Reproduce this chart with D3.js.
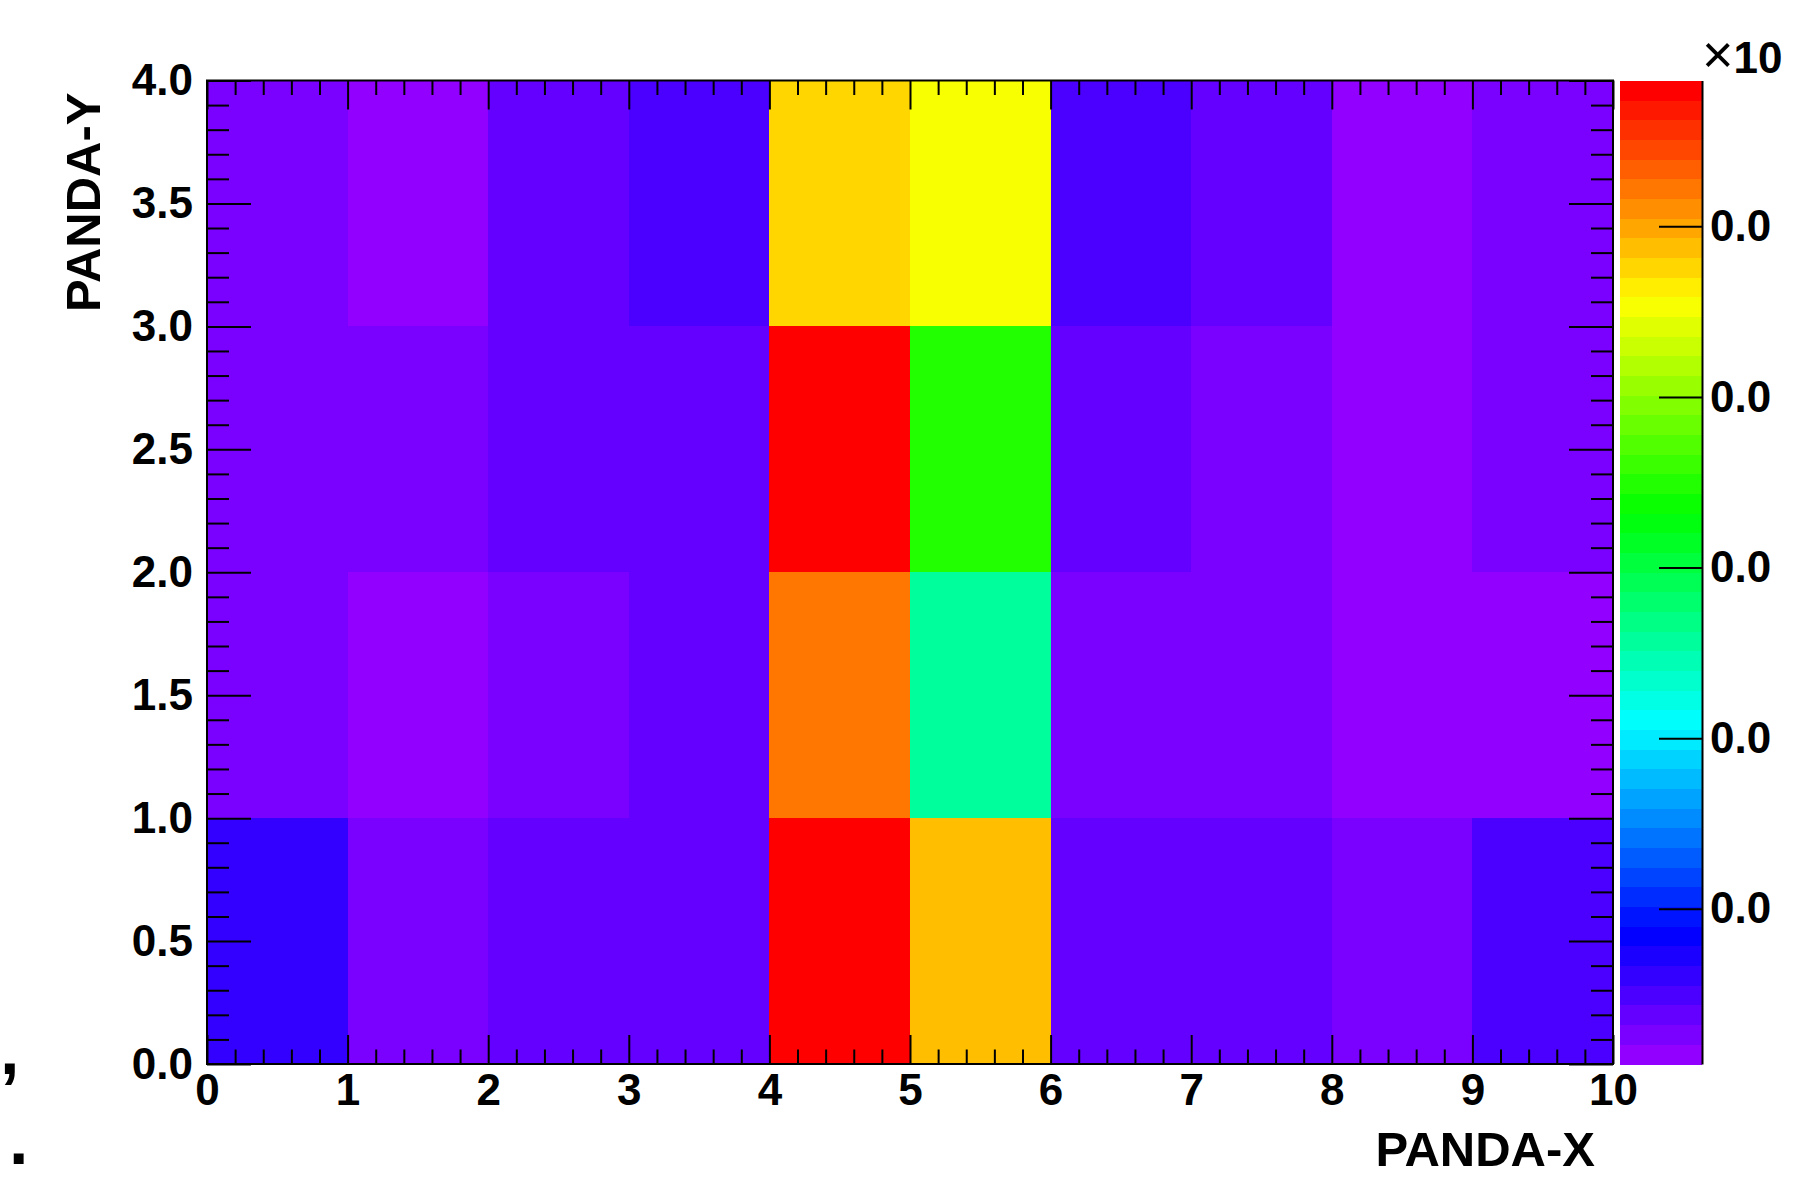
<!DOCTYPE html>
<html>
<head>
<meta charset="utf-8">
<script src="https://cdn.jsdelivr.net/npm/d3@7"></script>
<style>
  html, body { margin: 0; padding: 0; background: #fff; }
  svg { display: block; }
</style>
</head>
<body>
<svg id="chart"></svg>
<script>
// PANDA hit map, COLZ style

const xEdges = [0, 1, 2, 3, 4, 5, 6, 7, 8, 9, 10];
const yEdges = [0, 1, 2, 3, 4];

// cell contents, one array per row of y bins (bottom row first)
const row0 = [0.0121, 0.0052, 0.0074, 0.0079, 0.1160, 0.0978, 0.0075, 0.0071, 0.0055, 0.0098];
const row1 = [0.0050, 0.0034, 0.0056, 0.0078, 0.1047, 0.0512, 0.0054, 0.0058, 0.0030, 0.0027];
const row2 = [0.0057, 0.0051, 0.0073, 0.0077, 0.1171, 0.0697, 0.0072, 0.0053, 0.0031, 0.0049];
const row3 = [0.0049, 0.0028, 0.0068, 0.0095, 0.0950, 0.0905, 0.0097, 0.0070, 0.0033, 0.0055];
const rows = [row0, row1, row2, row3];

const xTicks = [0, 1, 2, 3, 4, 5, 6, 7, 8, 9, 10];
const yTicks = [0, 0.5, 1, 1.5, 2, 2.5, 3, 3.5, 4];
const zMin = 0.0018;
const zTicks = [0.02, 0.04, 0.06, 0.08, 0.10];
const zTickLabels = ["0.0", "0.0", "0.0", "0.0", "0.0"];

const xTitle = "PANDA-X";
const yTitle = "PANDA-Y";

const font = "'Liberation Sans', Arial, Helvetica, sans-serif";

const margin = { top: 80.5, right: 193, bottom: 115.5, left: 207 },
      width = 1406,
      height = 983.5;

const svg = d3.select("#chart")
  .attr("width", 1806)
  .attr("height", 1179);

const g = svg.append("g")
  .attr("transform", `translate(${margin.left},${margin.top})`);

const x = d3.scaleLinear().domain([0, 10]).range([0, width]);
const y = d3.scaleLinear().domain([0, 4]).range([height, 0]);

// ROOT "pretty" palette: 50 colours, violet -> red at fixed lightness
const palette = d3.range(50).map(i => d3.hsl(280 - (i + 1) * 5.6, 1, 0.5).formatHex());
const zMax = d3.max(rows.flat());
const color = d3.scaleQuantize().domain([zMin, zMax]).range(palette);

const cells = [];
rows.forEach((row, j) => row.forEach((v, i) => {
  cells.push({ x0: xEdges[i], x1: xEdges[i + 1], y0: yEdges[j], y1: yEdges[j + 1], v: v });
}));

g.append("g")
  .attr("shape-rendering", "crispEdges")
  .selectAll("rect")
  .data(cells)
  .join("rect")
  .attr("x", d => x(d.x0))
  .attr("y", d => y(d.y1))
  .attr("width", d => x(d.x1) - x(d.x0))
  .attr("height", d => y(d.y0) - y(d.y1))
  .attr("fill", d => color(d.v));

// === axes: ticks drawn inside the frame on all four sides ===
const xMinor = d3.range(0, 10.001, 0.2).filter(v => Math.abs(v - Math.round(v)) > 1e-6);
const yMinor = d3.range(0, 4.001, 0.1).filter(v => Math.abs(v * 2 - Math.round(v * 2)) > 1e-6);

function styleAxis(sel) {
  sel.select(".domain").remove();
  sel.selectAll(".tick line").attr("stroke", "#000").attr("stroke-width", 2);
  sel.selectAll(".tick text")
    .attr("fill", "#000")
    .style("font-family", font)
    .style("font-weight", "bold")
    .style("font-size", "44px");
}

g.append("g")
  .attr("transform", `translate(0,${height})`)
  .call(d3.axisBottom(x).tickValues(xTicks).tickSize(-29).tickPadding(10).tickFormat(d3.format("d")))
  .call(styleAxis);
g.append("g")
  .attr("transform", `translate(0,${height})`)
  .call(d3.axisBottom(x).tickValues(xMinor).tickSize(-14.5).tickFormat(""))
  .call(styleAxis);
g.append("g")
  .call(d3.axisTop(x).tickValues(xTicks).tickSize(-29).tickFormat(""))
  .call(styleAxis);
g.append("g")
  .call(d3.axisTop(x).tickValues(xMinor).tickSize(-14.5).tickFormat(""))
  .call(styleAxis);

g.append("g")
  .call(d3.axisLeft(y).tickValues(yTicks).tickSize(-44).tickPadding(14).tickFormat(d3.format(".1f")))
  .call(styleAxis);
g.append("g")
  .call(d3.axisLeft(y).tickValues(yMinor).tickSize(-22).tickFormat(""))
  .call(styleAxis);
g.append("g")
  .attr("transform", `translate(${width},0)`)
  .call(d3.axisRight(y).tickValues(yTicks).tickSize(-44).tickFormat(""))
  .call(styleAxis);
g.append("g")
  .attr("transform", `translate(${width},0)`)
  .call(d3.axisRight(y).tickValues(yMinor).tickSize(-22).tickFormat(""))
  .call(styleAxis);

g.append("rect")
  .attr("width", width)
  .attr("height", height)
  .attr("fill", "none")
  .attr("stroke", "#000")
  .attr("stroke-width", 2);

// axis titles
g.append("text")
  .attr("x", width - 18)
  .attr("y", height + 102)
  .attr("text-anchor", "end")
  .style("font-family", font)
  .style("font-weight", "bold")
  .style("font-size", "49px")
  .text(xTitle);

g.append("text")
  .attr("text-anchor", "end")
  .attr("transform", `translate(${-107},${12}) rotate(-90)`)
  .style("font-family", font)
  .style("font-weight", "bold")
  .style("font-size", "49px")
  .text(yTitle);

// === colour bar ===
const barX = width + 7, barW = 82;
const z = d3.scaleLinear().domain([zMin, zMax]).range([height, 0]);
const bar = g.append("g").attr("transform", `translate(${barX},0)`);

bar.append("g")
  .attr("shape-rendering", "crispEdges")
  .selectAll("rect")
  .data(palette)
  .join("rect")
  .attr("x", 0)
  .attr("width", barW)
  .attr("y", (c, i) => z(zMin + (i + 1) * (zMax - zMin) / 50))
  .attr("height", (c, i) => z(zMin + i * (zMax - zMin) / 50) - z(zMin + (i + 1) * (zMax - zMin) / 50) + 0.5)
  .attr("fill", c => c);

bar.append("g")
  .attr("transform", `translate(${barW},0)`)
  .call(d3.axisRight(z).tickValues(zTicks).tickSize(-43).tickSizeOuter(0).tickPadding(8)
    .tickFormat((d, i) => zTickLabels[i]))
  .call(sel => {
    sel.select(".domain").attr("stroke", "#000").attr("stroke-width", 2);
    sel.selectAll(".tick line").attr("stroke", "#000").attr("stroke-width", 2);
    sel.selectAll(".tick text")
      .attr("fill", "#000")
      .style("font-family", font)
      .style("font-weight", "bold")
      .style("font-size", "44px");
  });

const expo = bar.append("text")
  .attr("x", barW)
  .attr("y", -7.5)
  .style("font-family", font)
  .style("font-size", "44px");
expo.append("tspan").style("font-size", "54px").style("font-weight", "300").text("\u00d7");
expo.append("tspan").style("font-weight", "bold").text("10");

// stray glyphs at the left edge
svg.append("text")
  .attr("x", 0)
  .attr("y", 1074)
  .style("font-family", font)
  .style("font-weight", "bold")
  .style("font-size", "70px")
  .text(",");
svg.append("text")
  .attr("x", 9)
  .attr("y", 1164)
  .style("font-family", font)
  .style("font-weight", "bold")
  .style("font-size", "70px")
  .text(".");
</script>
</body>
</html>
